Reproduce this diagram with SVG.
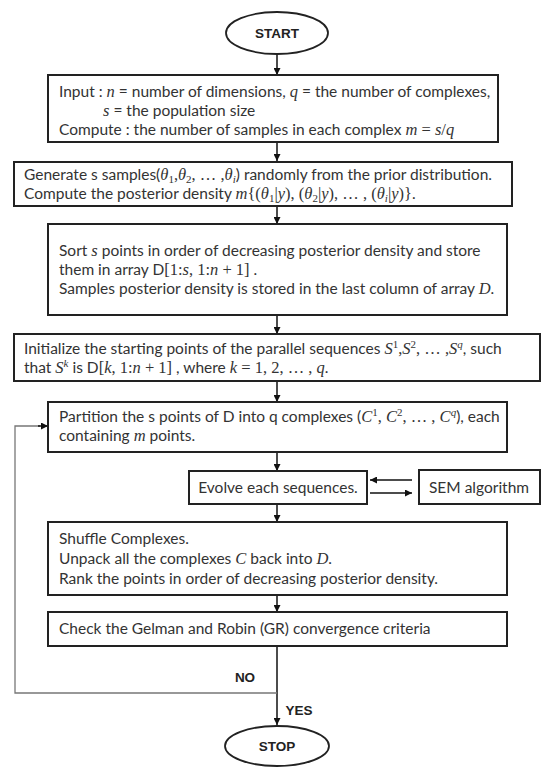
<svg xmlns="http://www.w3.org/2000/svg" width="542" height="767" viewBox="0 0 542 767">
<defs>
<marker id="ah" viewBox="0 0 10 10" refX="10" refY="5" markerWidth="7" markerHeight="7" markerUnits="userSpaceOnUse" orient="auto">
<path d="M0,0 L10,5 L0,10 z" fill="#111"/>
</marker>
<style>
.box{fill:#fff;stroke:#222;stroke-width:2}
.term{fill:#fff;stroke:#222;stroke-width:1.8}
.t{font-family:Lato,"Liberation Sans",sans-serif;font-size:15.5px;fill:#333}
.b{font-family:"Liberation Sans",Arial,sans-serif;font-size:13.5px;font-weight:bold;fill:#222}
.mi{font-family:"Liberation Serif","DejaVu Serif",serif;font-style:italic;font-size:16.5px}
.mn{font-family:"Liberation Serif","DejaVu Serif",serif;font-size:16.5px}
.sb{font-family:"Liberation Serif","DejaVu Serif",serif;font-size:11px}
.sbi{font-family:"Liberation Serif","DejaVu Serif",serif;font-style:italic;font-size:11px}
.c{fill:none;stroke:#111;stroke-width:1.5}
.loop{fill:none;stroke:#777;stroke-width:1.3}
</style>
</defs>

<g id="connectors">
<line class="c" x1="277" y1="54" x2="277" y2="75" marker-end="url(#ah)"/>
<line class="c" x1="277" y1="142" x2="277" y2="161" marker-end="url(#ah)"/>
<line class="c" x1="277" y1="206" x2="277" y2="224" marker-end="url(#ah)"/>
<line class="c" x1="277" y1="315" x2="277" y2="334" marker-end="url(#ah)"/>
<line class="c" x1="277" y1="381" x2="277" y2="402" marker-end="url(#ah)"/>
<line class="c" x1="277" y1="452" x2="277" y2="471" marker-end="url(#ah)"/>
<line class="c" x1="412" y1="480" x2="370" y2="480" marker-end="url(#ah)"/>
<line class="c" x1="370" y1="493" x2="412" y2="493" marker-end="url(#ah)"/>
<line class="c" x1="277" y1="504" x2="277" y2="522" marker-end="url(#ah)"/>
<line class="c" x1="277" y1="595" x2="277" y2="612" marker-end="url(#ah)"/>
<line class="c" x1="277" y1="646" x2="277" y2="725" marker-end="url(#ah)"/>
<polyline class="loop" points="277,693 15,693 15,426 40,426"/>
<line class="c" x1="38" y1="426" x2="48" y2="426" marker-end="url(#ah)"/>
<text class="b" x="245" y="682" text-anchor="middle">NO</text>
<text class="b" x="299" y="715" text-anchor="middle">YES</text>
</g>

<g id="start">
<ellipse class="term" cx="277" cy="33" rx="51" ry="21"/>
<text class="b" x="277" y="38" text-anchor="middle">START</text>
</g>

<g id="input">
<rect class="box" x="48" y="75" width="450" height="67"/>
<text class="t" x="59" y="97">Input : <tspan class="mi">n</tspan> = number of dimensions, <tspan class="mi">q</tspan> = the number of complexes,</text>
<text class="t" x="103" y="116"><tspan class="mi">s</tspan> = the population size</text>
<text class="t" x="59" y="135">Compute : the number of samples in each complex <tspan class="mi">m</tspan><tspan class="mn"> = </tspan><tspan class="mi">s</tspan><tspan class="mn">/</tspan><tspan class="mi">q</tspan></text>
</g>

<g id="generate">
<rect class="box" x="14" y="162" width="498" height="44"/>
<text class="t" x="24" y="180">Generate s samples(<tspan class="mi">θ</tspan><tspan class="sb" dy="3">1</tspan><tspan class="mn" dy="-3">,</tspan><tspan class="mi">θ</tspan><tspan class="sb" dy="3">2</tspan><tspan class="mn" dy="-3">, … ,</tspan><tspan class="mi">θ</tspan><tspan class="sbi" dy="3">i</tspan><tspan dy="-3">) randomly from the prior distribution.</tspan></text>
<text class="t" x="24" y="199">Compute the posterior density <tspan class="mi">m</tspan><tspan class="mn">{(</tspan><tspan class="mi">θ</tspan><tspan class="sb" dy="3">1</tspan><tspan class="mn" dy="-3">|</tspan><tspan class="mi">y</tspan><tspan class="mn">), (</tspan><tspan class="mi">θ</tspan><tspan class="sb" dy="3">2</tspan><tspan class="mn" dy="-3">|</tspan><tspan class="mi">y</tspan><tspan class="mn">), … , (</tspan><tspan class="mi">θ</tspan><tspan class="sbi" dy="3">i</tspan><tspan class="mn" dy="-3">|</tspan><tspan class="mi">y</tspan><tspan class="mn">)}</tspan>.</text>
</g>

<g id="sort">
<rect class="box" x="48" y="224" width="459" height="91"/>
<text class="t" x="59" y="256">Sort <tspan class="mi">s</tspan> points in order of decreasing posterior density and store</text>
<text class="t" x="59" y="275">them in array D<tspan class="mn">[1:</tspan><tspan class="mi">s</tspan><tspan class="mn">, 1:</tspan><tspan class="mi">n</tspan><tspan class="mn"> + 1]</tspan> .</text>
<text class="t" x="59" y="294">Samples posterior density is stored in the last column of array <tspan class="mi">D</tspan>.</text>
</g>

<g id="initialize">
<rect class="box" x="14" y="334" width="526" height="47"/>
<text class="t" x="24" y="354">Initialize the starting points of the parallel sequences <tspan class="mi">S</tspan><tspan class="sb" dy="-6">1</tspan><tspan class="mn" dy="6">,</tspan><tspan class="mi">S</tspan><tspan class="sb" dy="-6">2</tspan><tspan class="mn" dy="6">, … ,</tspan><tspan class="mi">S</tspan><tspan class="sbi" dy="-6">q</tspan><tspan dy="6">, such</tspan></text>
<text class="t" x="24" y="373">that <tspan class="mi">S</tspan><tspan class="sbi" dy="-6">k</tspan><tspan dy="6"> is D</tspan><tspan class="mn">[</tspan><tspan class="mi">k</tspan><tspan class="mn">, 1:</tspan><tspan class="mi">n</tspan><tspan class="mn"> + 1]</tspan> , where <tspan class="mi">k</tspan><tspan class="mn"> = 1, 2, … , </tspan><tspan class="mi">q</tspan>.</text>
</g>

<g id="partition">
<rect class="box" x="48" y="402" width="459" height="50"/>
<text class="t" x="59" y="422">Partition the s points of D into q complexes (<tspan class="mi">C</tspan><tspan class="sb" dy="-6">1</tspan><tspan class="mn" dy="6">, </tspan><tspan class="mi">C</tspan><tspan class="sb" dy="-6">2</tspan><tspan class="mn" dy="6">, … , </tspan><tspan class="mi">C</tspan><tspan class="sbi" dy="-6">q</tspan><tspan dy="6">), each</tspan></text>
<text class="t" x="59" y="441">containing <tspan class="mi">m</tspan> points.</text>
</g>

<g id="evolve">
<rect class="box" x="189" y="471" width="178" height="33"/>
<text class="t" x="278" y="493" text-anchor="middle">Evolve each sequences.</text>
</g>

<g id="sem">
<rect class="box" x="419" y="470" width="121" height="34"/>
<text class="t" x="479" y="493" text-anchor="middle">SEM algorithm</text>
</g>

<g id="shuffle">
<rect class="box" x="48" y="522" width="459" height="73"/>
<text class="t" x="59" y="544">Shuffle Complexes.</text>
<text class="t" x="59" y="564">Unpack all the complexes <tspan class="mi">C</tspan> back into <tspan class="mi">D</tspan>.</text>
<text class="t" x="59" y="584">Rank the points in order of decreasing posterior density.</text>
</g>

<g id="check">
<rect class="box" x="48" y="612" width="459" height="34"/>
<text class="t" x="59" y="634">Check the Gelman and Robin (GR) convergence criteria</text>
</g>

<g id="stop">
<ellipse class="term" cx="277" cy="746" rx="52" ry="20"/>
<text class="b" x="277" y="751" text-anchor="middle">STOP</text>
</g>
</svg>
